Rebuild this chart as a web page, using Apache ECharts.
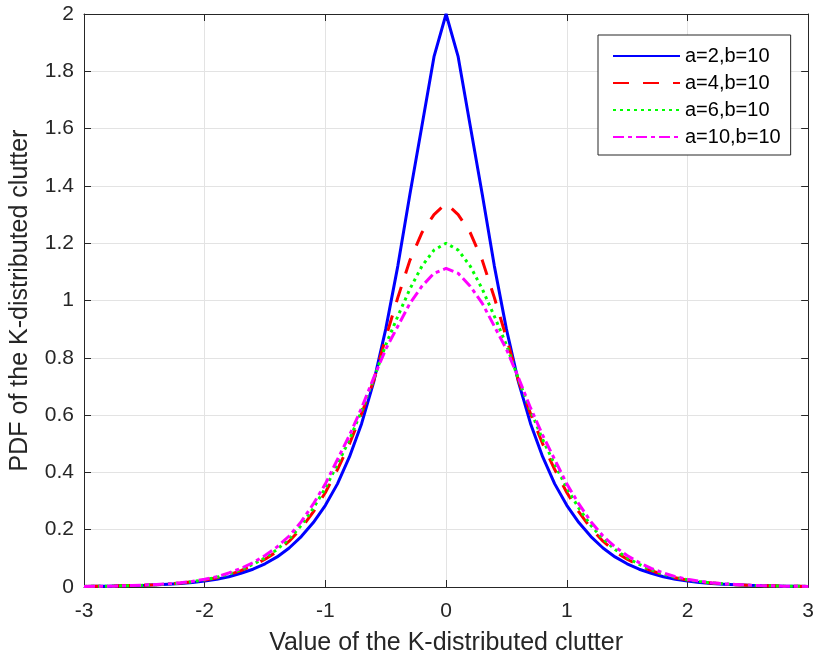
<!DOCTYPE html>
<html>
<head>
<meta charset="utf-8">
<script src="https://cdn.jsdelivr.net/npm/echarts@6/dist/echarts.min.js"></script>
<style>
html,body{margin:0;padding:0;background:#fff;}
#chart{width:817px;height:661px;}
</style>
</head>
<body>
<div id="chart"></div>
<script>
var xValues = [-3,-2.9,-2.8,-2.7,-2.6,-2.5,-2.4,-2.3,-2.2,-2.1,-2,-1.9,-1.8,-1.7,-1.6,-1.5,-1.4,-1.3,-1.2,-1.1,-1,-0.9,-0.8,-0.7,-0.6,-0.5,-0.4,-0.3,-0.2,-0.1,0,0.1,0.2,0.3,0.4,0.5,0.6,0.7,0.8,0.9,1,1.1,1.2,1.3,1.4,1.5,1.6,1.7,1.8,1.9,2,2.1,2.2,2.3,2.4,2.5,2.6,2.7,2.8,2.9,3];

var seriesNames = ['a=2,b=10','a=4,b=10','a=6,b=10','a=10,b=10'];

var pdfA2 = [0.002,0.003,0.003,0.004,0.005,0.006,0.008,0.010,0.012,0.016,0.021,0.027,0.036,0.048,0.062,0.081,0.105,0.136,0.176,0.225,0.285,0.36,0.455,0.57,0.715,0.90,1.12,1.37,1.61,1.851,2.0,1.851,1.61,1.37,1.12,0.90,0.715,0.57,0.455,0.36,0.285,0.225,0.176,0.136,0.105,0.081,0.062,0.048,0.036,0.027,0.021,0.016,0.012,0.010,0.008,0.006,0.005,0.004,0.003,0.003,0.002];

var pdfA4 = [0.002,0.003,0.003,0.004,0.005,0.006,0.008,0.011,0.014,0.018,0.024,0.032,0.043,0.057,0.075,0.097,0.124,0.16,0.205,0.262,0.33,0.41,0.50,0.605,0.72,0.87,1.01,1.14,1.237,1.30,1.339,1.30,1.237,1.14,1.01,0.87,0.72,0.605,0.50,0.41,0.33,0.262,0.205,0.16,0.124,0.097,0.075,0.057,0.043,0.032,0.024,0.018,0.014,0.011,0.008,0.006,0.005,0.004,0.003,0.003,0.002];

var pdfA6 = [0.002,0.003,0.003,0.004,0.005,0.006,0.008,0.011,0.014,0.019,0.025,0.034,0.045,0.060,0.079,0.102,0.131,0.168,0.215,0.275,0.345,0.428,0.515,0.615,0.725,0.845,0.945,1.04,1.12,1.176,1.2,1.176,1.12,1.04,0.945,0.845,0.725,0.615,0.515,0.428,0.345,0.275,0.215,0.168,0.131,0.102,0.079,0.060,0.045,0.034,0.025,0.019,0.014,0.011,0.008,0.006,0.005,0.004,0.003,0.003,0.002];

var pdfA10 = [0.002,0.003,0.003,0.004,0.005,0.007,0.009,0.011,0.015,0.020,0.027,0.036,0.049,0.065,0.085,0.11,0.14,0.178,0.228,0.29,0.36,0.445,0.53,0.625,0.73,0.83,0.91,0.99,1.05,1.095,1.112,1.095,1.05,0.99,0.91,0.83,0.73,0.625,0.53,0.445,0.36,0.29,0.228,0.178,0.14,0.11,0.085,0.065,0.049,0.036,0.027,0.020,0.015,0.011,0.009,0.007,0.005,0.004,0.003,0.003,0.002];

var xTicks = [-3,-2,-1,0,1,2,3];
var yTicks = [0,0.2,0.4,0.6,0.8,1,1.2,1.4,1.6,1.8,2];

function pairs(ys){ return xValues.map(function(x,i){ return [x, ys[i]]; }); }

var FONT = '"Liberation Sans", Arial, sans-serif';
var AX = '#262626';

var chart = echarts.init(document.getElementById('chart'), null, {renderer:'canvas'});

var styles = [
  {color:'#0000ff', type:'solid'},
  {color:'#ff0000', type:[16,14]},
  {color:'#00ff00', type:[3,4]},
  {color:'#ff00ff', type:[11,4,4,4]}
];
var datas = [pdfA2, pdfA4, pdfA6, pdfA10];

var series = seriesNames.map(function(n,i){
  return {
    name:n, type:'line', data:pairs(datas[i]), showSymbol:false, symbol:'none',
    smooth:false, animation:false,
    lineStyle:{color:styles[i].color, width:3, type:styles[i].type, cap:'butt'},
    itemStyle:{color:styles[i].color},
    z: 10 + i
  };
});

chart.setOption({
  backgroundColor:'#ffffff',
  animation:false,
  grid:{left:84, right:6, top:14, bottom:74, containLabel:false},
  legend:{
    left:598, top:35, orient:'vertical',
    itemWidth:67, itemHeight:14, itemGap:7,
    padding:[11,10,8,14],
    backgroundColor:'#ffffff', borderColor:AX, borderWidth:1, borderRadius:0,
    itemStyle:{opacity:0},
    textStyle:{fontFamily:FONT, fontSize:20, color:'#000'},
    data:seriesNames
  },
  xAxis:[{
    type:'value', min:-3, max:3, interval:1,
    name:'Value of the K-distributed clutter', nameLocation:'middle', nameGap:44,
    nameTextStyle:{fontFamily:FONT, fontSize:25, color:AX},
    axisLine:{show:true, onZero:false, lineStyle:{color:AX, width:1}},
    axisTick:{show:true, inside:true, length:7, lineStyle:{color:AX}},
    axisLabel:{fontFamily:FONT, fontSize:21, color:AX, margin:14},
    splitLine:{show:true, lineStyle:{color:'#e3e3e3', width:1}}
  },{
    type:'value', min:-3, max:3, interval:1, position:'top',
    axisLine:{show:true, onZero:false, lineStyle:{color:AX, width:1}},
    axisTick:{show:true, inside:true, length:7, lineStyle:{color:AX}},
    axisLabel:{show:false}, splitLine:{show:false}
  }],
  yAxis:[{
    type:'value', min:0, max:2, interval:0.2,
    name:'PDF of the K-distributed clutter', nameLocation:'middle', nameGap:51,
    nameTextStyle:{fontFamily:FONT, fontSize:25, color:AX},
    axisLine:{show:true, onZero:false, lineStyle:{color:AX, width:1}},
    axisTick:{show:true, inside:true, length:7, lineStyle:{color:AX}},
    axisLabel:{fontFamily:FONT, fontSize:21, color:AX, margin:10},
    splitLine:{show:true, lineStyle:{color:'#e3e3e3', width:1}}
  },{
    type:'value', min:0, max:2, interval:0.2, position:'right',
    axisLine:{show:true, onZero:false, lineStyle:{color:AX, width:1}},
    axisTick:{show:true, inside:true, length:7, lineStyle:{color:AX}},
    axisLabel:{show:false}, splitLine:{show:false}
  }],
  series:series
});
</script>
</body>
</html>
